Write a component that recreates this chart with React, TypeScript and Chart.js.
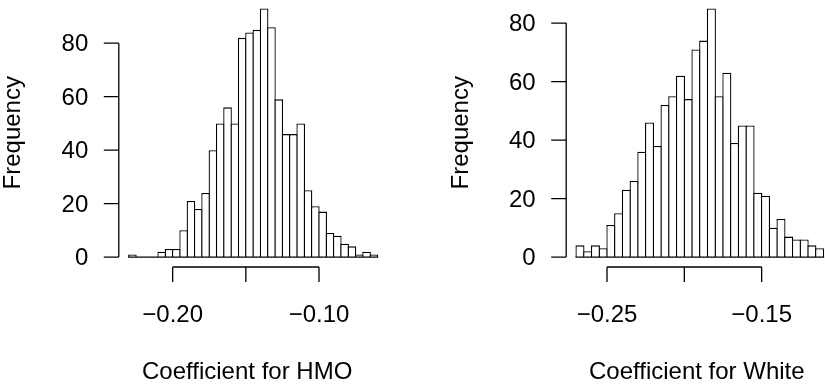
import { useEffect, useRef } from "react";
import { Chart, registerables } from "chart.js";

Chart.register(...registerables);

// ---- Data ----
const binWidth = 0.005;

const hmoBreakStart = -0.23;
const hmoCounts = [1, 0, 0, 0, 2, 3, 3, 10, 21, 18, 24, 40, 50, 56, 50, 82, 84, 85, 93, 86, 59, 46, 46, 50, 25, 19, 17, 9, 8, 5, 4, 1, 2, 1];
const hmoXTicks = [-0.2, -0.15, -0.1];
const hmoXTickLabels = ["\u22120.20", "", "\u22120.10"];
const hmoTitle = "Coefficient for HMO";

const whiteBreakStart = -0.27;
const whiteCounts = [4, 2, 4, 3, 11, 15, 23, 26, 36, 46, 38, 52, 55, 62, 54, 71, 74, 85, 55, 63, 39, 45, 45, 22, 21, 10, 13, 7, 6, 6, 4, 3];
const whiteXTicks = [-0.25, -0.2, -0.15];
const whiteXTickLabels = ["\u22120.25", "", "\u22120.15"];
const whiteTitle = "Coefficient for White";

const yTicks = [0, 20, 40, 60, 80];
const yTickLabels = ["0", "20", "40", "60", "80"];
const yTitle = "Frequency";

const FONT = '24px "Liberation Sans", Arial, Helvetica, sans-serif';
const LW = 1.3;

type Panel = {
  breakStart: number;
  counts: number[];
  xTicks: number[];
  xTickLabels: string[];
  title: string;
  titleShift: number;
  canvasWidth: number;
  padding: { left: number; right: number; top: number; bottom: number };
  binPx: number;
};

function rAxesPlugin(p: Panel) {
  return {
    id: "rAxes",
    afterDatasetsDraw(chart: any) {
      const ctx = chart.ctx as CanvasRenderingContext2D;
      const xs = chart.scales.x;
      const ys = chart.scales.y;
      const area = chart.chartArea;
      const lo = p.breakStart;
      const hi = p.breakStart + p.counts.length * binWidth;
      ctx.save();
      ctx.strokeStyle = "#000";
      ctx.fillStyle = "#000";
      ctx.lineWidth = LW;
      // baseline of the histogram (zero-height bins)
      const y0 = ys.getPixelForValue(0);
      ctx.beginPath();
      ctx.moveTo(xs.getPixelForValue(lo) - LW / 2, y0);
      ctx.lineTo(xs.getPixelForValue(hi) + LW / 2, y0);
      ctx.stroke();

      // y axis
      const ax = area.left;
      ctx.beginPath();
      ctx.moveTo(ax, ys.getPixelForValue(yTicks[0]));
      ctx.lineTo(ax, ys.getPixelForValue(yTicks[yTicks.length - 1]));
      yTicks.forEach((t) => {
        const py = ys.getPixelForValue(t);
        ctx.moveTo(ax - 15, py);
        ctx.lineTo(ax, py);
      });
      ctx.stroke();
      ctx.font = FONT;
      ctx.textAlign = "right";
      ctx.textBaseline = "middle";
      yTicks.forEach((t, i) => {
        ctx.fillText(yTickLabels[i], ax - 30.5, ys.getPixelForValue(t) + 1.5);
      });

      // x axis
      const ay = area.bottom;
      ctx.beginPath();
      ctx.moveTo(xs.getPixelForValue(p.xTicks[0]), ay);
      ctx.lineTo(xs.getPixelForValue(p.xTicks[p.xTicks.length - 1]), ay);
      p.xTicks.forEach((t) => {
        const px = xs.getPixelForValue(t);
        ctx.moveTo(px, ay);
        ctx.lineTo(px, ay + 15);
      });
      ctx.stroke();
      ctx.textAlign = "center";
      ctx.textBaseline = "alphabetic";
      p.xTicks.forEach((t, i) => {
        if (p.xTickLabels[i]) ctx.fillText(p.xTickLabels[i], xs.getPixelForValue(t), ay + 55);
      });

      // titles
      ctx.fillText(p.title, (area.left + area.right) / 2 + p.titleShift, ay + 112);
      ctx.save();
      ctx.translate(area.left - 98.5, (area.top + area.bottom) / 2);
      ctx.rotate(-Math.PI / 2);
      ctx.textAlign = "center";
      ctx.textBaseline = "alphabetic";
      ctx.fillText(yTitle, 0, 0);
      ctx.restore();
      ctx.restore();
    },
  };
}

function HistPanel({ p }: { p: Panel }) {
  const ref = useRef<HTMLCanvasElement | null>(null);
  useEffect(() => {
    if (!ref.current) return;
    const lo = p.breakStart;
    const hi = p.breakStart + p.counts.length * binWidth;
    const ext = 0.04 * (hi - lo);
    const ymax = Math.max(...p.counts);
    const yext = 0.04 * ymax;
    const data = p.counts.map((c, i) => ({ x: lo + (i + 0.5) * binWidth, y: c }));
    const chart = new Chart(ref.current, {
      type: "bar",
      data: {
        datasets: [
          {
            data: data as any,
            backgroundColor: "#ffffff",
            borderColor: "#000000",
            borderWidth: LW,
            borderSkipped: "start",
            barPercentage: (p.binPx + LW) / p.binPx,
            categoryPercentage: 1,
          },
        ],
      },
      options: {
        animation: false,
        responsive: false,
        devicePixelRatio: 1,
        layout: { padding: p.padding },
        plugins: { legend: { display: false }, tooltip: { enabled: false } },
        scales: {
          x: { type: "linear", min: lo - ext, max: hi + ext, offset: false, display: false },
          y: { type: "linear", min: -yext, max: ymax + yext, display: false },
        },
      },
      plugins: [rAxesPlugin(p)],
    });
    return () => chart.destroy();
  }, [p]);
  return (
    <canvas
      ref={ref}
      width={p.canvasWidth}
      height={387}
      style={{ position: "absolute", left: 0, top: -2, width: p.canvasWidth, height: 387 }}
    />
  );
}

const leftPanel: Panel = {
  breakStart: hmoBreakStart,
  counts: hmoCounts,
  xTicks: hmoXTicks,
  xTickLabels: hmoXTickLabels,
  title: hmoTitle,
  titleShift: -6,
  canvasWidth: 825,
  padding: { left: 118.8, right: 437.5, top: 0.5, bottom: 118 },
  binPx: 7.32,
};

const rightPanel: Panel = {
  breakStart: whiteBreakStart,
  counts: whiteCounts,
  xTicks: whiteXTicks,
  xTickLabels: whiteXTickLabels,
  title: whiteTitle,
  titleShift: -3,
  canvasWidth: 850,
  padding: { left: 566.2, right: 16.6, top: 0.5, bottom: 118 },
  binPx: 7.73,
};

export default function App() {
  return (
    <div
      style={{
        position: "absolute",
        left: 0,
        top: 0,
        width: 825,
        height: 385,
        overflow: "hidden",
        background: "#ffffff",
      }}
    >
      <HistPanel p={leftPanel} />
      <HistPanel p={rightPanel} />
    </div>
  );
}
